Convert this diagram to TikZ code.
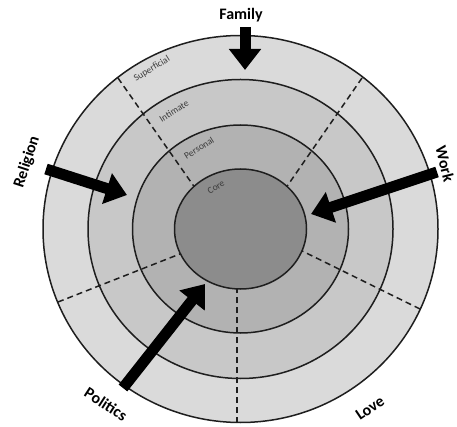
\documentclass[tikz,border=0pt]{standalone}
\usepackage{fontspec}
\setmainfont{Carlito}
\usetikzlibrary{arrows.meta}
\definecolor{outerc}{RGB}{218,218,218}
\definecolor{intimc}{RGB}{200,200,200}
\definecolor{persc}{RGB}{178,178,178}
\definecolor{corec}{RGB}{140,140,140}
\definecolor{linec}{RGB}{30,30,30}
\definecolor{smalltxt}{RGB}{60,60,60}
\tikzset{
  ringline/.style={draw=linec, line width=1.5pt},
  sector/.style={draw=linec, line width=1.5pt, dash pattern=on 6pt off 4pt},
  bigarrow/.style={line width=11pt, -{Triangle[length=21pt,width=31pt]}, black},
  biglabel/.style={font=\bfseries\fontsize{16}{16}\selectfont, inner sep=0pt},
  ringlabel/.style={font=\fontsize{9.5}{10}\selectfont, text=smalltxt, inner sep=0pt, rotate=32}
}
\begin{document}
\begin{tikzpicture}[x=1pt,y=-1pt]
\useasboundingbox (0,0) rectangle (457,427);
\coordinate (c) at (240.5,229);
% rings
\fill[outerc] (c) ellipse [x radius=197.5pt, y radius=193.5pt];
\fill[intimc] (c) ellipse [x radius=152.5pt, y radius=149.5pt];
\fill[persc] (c) ellipse [x radius=108pt, y radius=104pt];
% sector dividers
\coordinate (d1o) at (118,78);   \coordinate (d1i) at (200,195);
\coordinate (d2o) at (362,78);   \coordinate (d2i) at (281,195);
\coordinate (d3o) at (420,309);  \coordinate (d3i) at (290,245);
\coordinate (d4o) at (237,423);  \coordinate (d4i) at (237,280);
\coordinate (d5o) at (58,302);   \coordinate (d5i) at (190,250);
\draw[sector] (d1o) -- (d1i);
\draw[sector] (d2o) -- (d2i);
\draw[sector] (d3o) -- (d3i);
\draw[sector] (d4o) -- (d4i);
\draw[sector] (d5o) -- (d5i);
% ring outlines
\draw[ringline] (c) ellipse [x radius=197.5pt, y radius=193.5pt];
\draw[ringline] (c) ellipse [x radius=152.5pt, y radius=149.5pt];
\draw[ringline] (c) ellipse [x radius=108pt, y radius=104pt];
\draw[ringline, fill=corec] (c) ellipse [x radius=66pt, y radius=60pt];
% ring labels
\node[ringlabel] (lsup) at (152,69) {Superficial};
\node[ringlabel] (lint) at (174,111) {Intimate};
\node[ringlabel] (lper) at (199,148) {Personal};
\node[ringlabel] (lcor) at (216,187) {Core};
% arrows
\coordinate (famS) at (245,27);  \coordinate (famE) at (245,70);
\coordinate (relS) at (46,169);  \coordinate (relE) at (127,195);
\coordinate (worS) at (437,172); \coordinate (worE) at (311,214);
\coordinate (polS) at (123,388); \coordinate (polE) at (205,284);
\draw[bigarrow] (famS) -- (famE);
\draw[bigarrow] (relS) -- (relE);
\draw[bigarrow] (worS) -- (worE);
\draw[bigarrow] (polS) -- (polE);
% outer labels
\node[biglabel] (family) at (241,15) {Family};
\node[biglabel, rotate=72] (religion) at (27,162) {Religion};
\node[biglabel, rotate=-76] (work) at (445,164) {Work};
\node[biglabel, rotate=-33] (politics) at (106,404) {Politics};
\node[biglabel, rotate=34] (love) at (370,408) {Love};
\end{tikzpicture}
\end{document}
